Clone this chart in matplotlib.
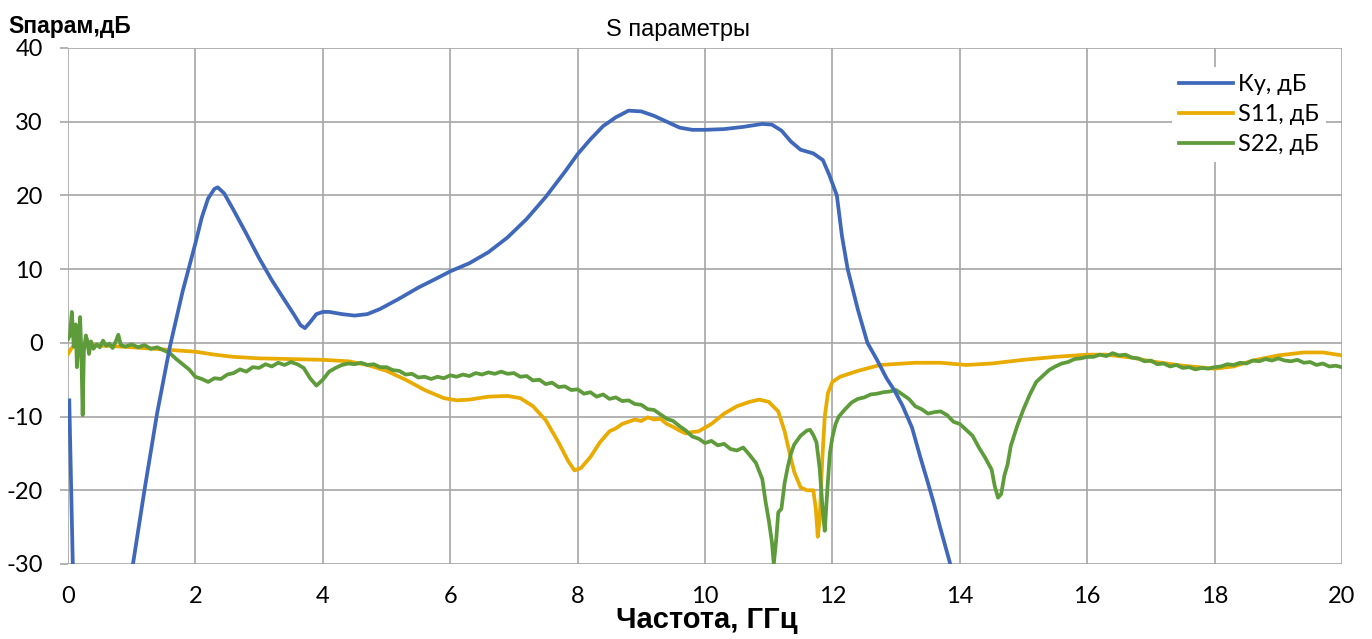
import matplotlib
matplotlib.use('Agg')
import matplotlib.pyplot as plt

plt.rcParams['axes.unicode_minus'] = False

# Ку, дБ
ku_x = [0.02, 0.1, 0.5, 0.95, 1.02, 1.2, 1.4, 1.6, 1.8, 2.0, 2.1, 2.2, 2.3, 2.35, 2.45, 2.6,
        2.8, 3.0, 3.2, 3.4, 3.55, 3.65, 3.72, 3.8, 3.9, 4.0, 4.1, 4.3, 4.5, 4.7, 4.9, 5.2,
        5.5, 5.8, 6.0, 6.3, 6.6, 6.9, 7.2, 7.5, 7.8, 8.0, 8.2, 8.4, 8.6, 8.8, 9.0, 9.2,
        9.4, 9.6, 9.8, 10.0, 10.3, 10.6, 10.9, 11.05, 11.2, 11.35, 11.5, 11.7, 11.85, 11.95,
        12.07, 12.15, 12.24, 12.4, 12.55, 12.7, 12.85, 12.97, 13.1, 13.25, 13.38, 13.5,
        13.6, 13.69, 13.78, 13.85, 13.95]
ku_y = [-7.8, -40, -60, -34, -30, -20, -9.5, -0.5, 7, 13.5, 17, 19.6, 20.9, 21.1, 20.3, 18,
        14.8, 11.5, 8.5, 5.8, 3.8, 2.4, 2.0, 2.8, 3.9, 4.2, 4.2, 3.9, 3.7, 3.9, 4.6, 6.0,
        7.5, 8.8, 9.7, 10.8, 12.3, 14.3, 16.8, 19.8, 23.2, 25.6, 27.6, 29.4, 30.6, 31.5, 31.4, 30.8,
        30.0, 29.2, 28.9, 28.9, 29.0, 29.3, 29.7, 29.6, 28.8, 27.3, 26.2, 25.7, 24.8, 22.8,
        20, 14.5, 10, 4.5, 0, -2.3, -4.8, -6.4, -8.5, -11.5, -15.5, -19,
        -22, -25, -27.8, -30, -34]

# S11, дБ
s11_x = [0.0, 0.05, 0.1, 0.3, 0.6, 1.0, 1.5, 2.0, 2.3, 2.6, 3.0, 3.5, 4.0, 4.4, 4.7, 5.0,
         5.3, 5.6, 5.9, 6.1, 6.3, 6.6, 6.9, 7.1, 7.3, 7.5, 7.7, 7.85, 7.95, 8.05, 8.2, 8.35,
         8.5, 8.6, 8.7, 8.8, 8.9, 9.0, 9.1, 9.2, 9.3, 9.4, 9.5, 9.6, 9.7, 9.8, 9.9, 10.1,
         10.3, 10.5, 10.7, 10.85, 11.0, 11.15, 11.25, 11.33, 11.4, 11.5, 11.6, 11.7, 11.74,
         11.77, 11.8, 11.84, 11.88, 11.93, 12.0, 12.12, 12.4, 12.75, 13.3, 13.7, 14.1, 14.5,
         15.0, 15.5, 16.0, 16.3, 16.7, 17.0, 17.5, 18.0, 18.3, 18.6, 19.0, 19.4, 19.7, 20.0]
s11_y = [-1.5, -0.8, -0.3, -0.3, -0.4, -0.6, -0.9, -1.2, -1.6, -1.9, -2.1, -2.2, -2.3, -2.5, -3.0, -3.8,
         -5.0, -6.4, -7.5, -7.8, -7.7, -7.3, -7.2, -7.5, -8.6, -10.5, -13.5, -16, -17.3, -17, -15.5, -13.5,
         -12.0, -11.6, -11.0, -10.7, -10.4, -10.6, -10.1, -10.4, -10.3, -11.0, -11.4, -11.9, -12.3, -12.1, -12.0, -11.0,
         -9.6, -8.6, -8.0, -7.7, -8.0, -9.3, -12, -15, -17.5, -19.6, -20, -20, -22.5,
         -26.3, -24, -16, -10, -6.8, -5.3, -4.6, -3.8, -3.0, -2.7, -2.7, -3.0, -2.8,
         -2.3, -1.9, -1.6, -1.6, -2.0, -2.5, -3.1, -3.5, -3.2, -2.4, -1.7, -1.3, -1.3, -1.7]

# S22, дБ
s22_x = [0.0, 0.03, 0.06, 0.09, 0.12, 0.14, 0.17, 0.19, 0.21, 0.23, 0.25, 0.28, 0.30, 0.33,
         0.36, 0.40, 0.45, 0.50, 0.55, 0.60, 0.65, 0.70, 0.75, 0.79, 0.83,
         0.9, 1.0, 1.1, 1.2, 1.3, 1.4, 1.5, 1.6, 1.7, 1.8, 1.9, 2.0, 2.1, 2.2, 2.3, 2.4,
         2.5, 2.6, 2.7, 2.8, 2.9, 3.0, 3.1, 3.2, 3.3, 3.4, 3.5, 3.6, 3.7, 3.8, 3.9, 4.0,
         4.1, 4.2, 4.3, 4.4, 4.5, 4.6, 4.7, 4.8, 4.9, 5.0, 5.1, 5.2, 5.3, 5.4, 5.5, 5.6,
         5.7, 5.8, 5.9, 6.0, 6.1, 6.2, 6.3, 6.4, 6.5, 6.6, 6.7, 6.8, 6.9, 7.0, 7.1, 7.2,
         7.3, 7.4, 7.5, 7.6, 7.7, 7.8, 7.9, 8.0, 8.1, 8.2, 8.3, 8.4, 8.5, 8.6, 8.7, 8.8,
         8.9, 9.0, 9.1, 9.2, 9.3, 9.4, 9.5, 9.6, 9.7, 9.8, 9.9, 10.0, 10.1, 10.2, 10.3,
         10.4, 10.5, 10.6, 10.7, 10.8, 10.9, 10.95, 11.0, 11.05, 11.08, 11.12, 11.15, 11.2,
         11.25, 11.3, 11.35, 11.4, 11.5, 11.6, 11.65, 11.7, 11.75, 11.8, 11.85, 11.88, 11.92,
         11.96, 12.0, 12.05, 12.1, 12.2, 12.3, 12.4, 12.5, 12.6, 12.7, 12.8, 12.9, 13.0,
         13.1, 13.2, 13.3, 13.4, 13.5, 13.6, 13.7, 13.8, 13.9, 14.0, 14.1, 14.2, 14.3, 14.4,
         14.5, 14.55, 14.6, 14.65, 14.7, 14.75, 14.8, 14.9, 15.0, 15.1, 15.2, 15.3, 15.4,
         15.5, 15.6, 15.7, 15.8, 15.9, 16.0, 16.1, 16.2, 16.3, 16.4, 16.5, 16.6, 16.7, 16.8,
         16.9, 17.0, 17.1, 17.2, 17.3, 17.4, 17.5, 17.6, 17.7, 17.8, 17.9, 18.0, 18.1, 18.2,
         18.3, 18.4, 18.5, 18.6, 18.7, 18.8, 18.9, 19.0, 19.1, 19.2, 19.3, 19.4, 19.5, 19.6,
         19.7, 19.8, 19.9, 20.0]
s22_y = [0.5, 1.0, 4.2, -0.5, 2.5, -3.3, 0.5, 3.5, -1.5, -9.8, -1.0, 1.0, 0.4, -1.5,
         0.2, -0.8, -0.2, -0.6, 0.3, -0.4, -0.1, -0.7, 0.2, 1.1, -0.3,
         -0.5, -0.2, -0.6, -0.3, -0.8, -0.6, -1.0, -1.4, -2.2, -2.9, -3.6, -4.6, -4.9, -5.3, -4.8, -4.9,
         -4.3, -4.1, -3.6, -3.9, -3.3, -3.4, -2.9, -3.2, -2.7, -3.0, -2.6, -2.9, -3.4, -4.8, -5.8, -5.0,
         -3.9, -3.4, -3.0, -2.8, -2.9, -2.7, -3.0, -2.9, -3.3, -3.3, -3.7, -3.8, -4.3, -4.2, -4.7, -4.6,
         -4.9, -4.6, -4.8, -4.4, -4.6, -4.3, -4.5, -4.1, -4.3, -4.0, -4.2, -3.9, -4.2, -4.1, -4.6, -4.5,
         -5.1, -5.0, -5.6, -5.4, -6.0, -5.9, -6.4, -6.3, -6.9, -6.7, -7.3, -7.0, -7.6, -7.4, -7.9, -7.8,
         -8.3, -8.4, -9.0, -9.1, -9.7, -10.3, -10.6, -11.3, -11.9, -12.7, -13.0, -13.6, -13.3, -13.9, -13.7,
         -14.4, -14.6, -14.2, -15.2, -16.3, -18.5, -21.5, -24, -27, -30, -26.5, -23, -22.5,
         -19, -16.8, -15, -13.8, -12.6, -11.9, -11.8, -12.5, -13.5, -17, -23, -25.5, -20,
         -15, -12.8, -11, -10, -9.0, -8.1, -7.6, -7.4, -7.0, -6.9, -6.7, -6.6, -6.4,
         -7.0, -7.6, -8.6, -9.0, -9.6, -9.4, -9.3, -9.8, -10.7, -11.0, -11.8, -12.6, -14.2, -15.6,
         -17.2, -19.5, -21, -20.5, -18, -16.5, -14, -11.3, -9.0, -7, -5.3, -4.5, -3.7,
         -3.2, -2.8, -2.6, -2.2, -2.1, -1.9, -1.9, -1.6, -1.8, -1.4, -1.7, -1.6, -2.0, -2.1,
         -2.5, -2.4, -2.9, -2.8, -3.2, -3.0, -3.4, -3.3, -3.6, -3.4, -3.5, -3.3, -3.2, -2.9,
         -3.0, -2.7, -2.8, -2.4, -2.5, -2.2, -2.4, -2.1, -2.4, -2.5, -2.3, -2.7, -2.6, -3.0,
         -2.8, -3.2, -3.1, -3.3]

x_ticks = [0, 2, 4, 6, 8, 10, 12, 14, 16, 18, 20]
y_ticks = [-30, -20, -10, 0, 10, 20, 30, 40]

tick_font = ['Lato', 'DejaVu Sans']
label_font = ['Liberation Sans', 'DejaVu Sans']
grid_color = '#A6A6A6'

W, H = 1372, 639
fig = plt.figure(figsize=(W / 100.0, H / 100.0), dpi=100)
ax = fig.add_axes([68.0 / W, 1 - 564.0 / H, (1342.0 - 68) / W, (564.0 - 48) / H])

ax.plot(s11_x, s11_y, color='#E9AB00', lw=2.7, label=u'S11, дБ', zorder=3)
ax.plot(s22_x, s22_y, color='#5E9B3B', lw=2.7, label=u'S22, дБ', zorder=3)
ax.plot(ku_x, ku_y, color='#4068BA', lw=2.7, label=u'Ку, дБ', zorder=4)

ax.set_xlim(0, 20)
ax.set_ylim(-30, 40)
ax.set_xticks(x_ticks)
ax.set_yticks(y_ticks)
ax.grid(True, color=grid_color, lw=1.2)
ax.set_axisbelow(True)
for s in ax.spines.values():
    s.set_visible(False)
ax.tick_params(axis='y', length=6, width=1.2, color=grid_color, pad=12, labelsize=17)
ax.tick_params(axis='x', length=0, pad=16, labelsize=17)
for lab in ax.get_xticklabels() + ax.get_yticklabels():
    lab.set_family(tick_font)

# legend order as in the picture
h, l = ax.get_legend_handles_labels()
order = [2, 0, 1]
leg = ax.legend([h[i] for i in order], [l[i] for i in order],
                loc='upper left', bbox_to_anchor=(1160.0 / W, 1 - 55.0 / H),
                bbox_transform=fig.transFigure, frameon=True, fancybox=False,
                framealpha=1, facecolor='white', edgecolor='none',
                handlelength=2.3, handletextpad=0.2, labelspacing=0.38,
                borderpad=0.3, prop={'family': tick_font, 'size': 17})

fig.text(678.0 / W, 1 - 30.0 / H, u'S параметры', ha='center', va='center',
         fontsize=17, family=label_font)
fig.text(8.0 / W, 1 - 27.0 / H, u'Sпарам,дБ', ha='left', va='center',
         fontsize=16.5, fontweight='bold', family=label_font)
fig.text(707.0 / W, 1 - 620.0 / H, u'Частота, ГГц', ha='center', va='center',
         fontsize=21, fontweight='bold', family=label_font)

plt.savefig('out.png', dpi=100)
plt.close()
